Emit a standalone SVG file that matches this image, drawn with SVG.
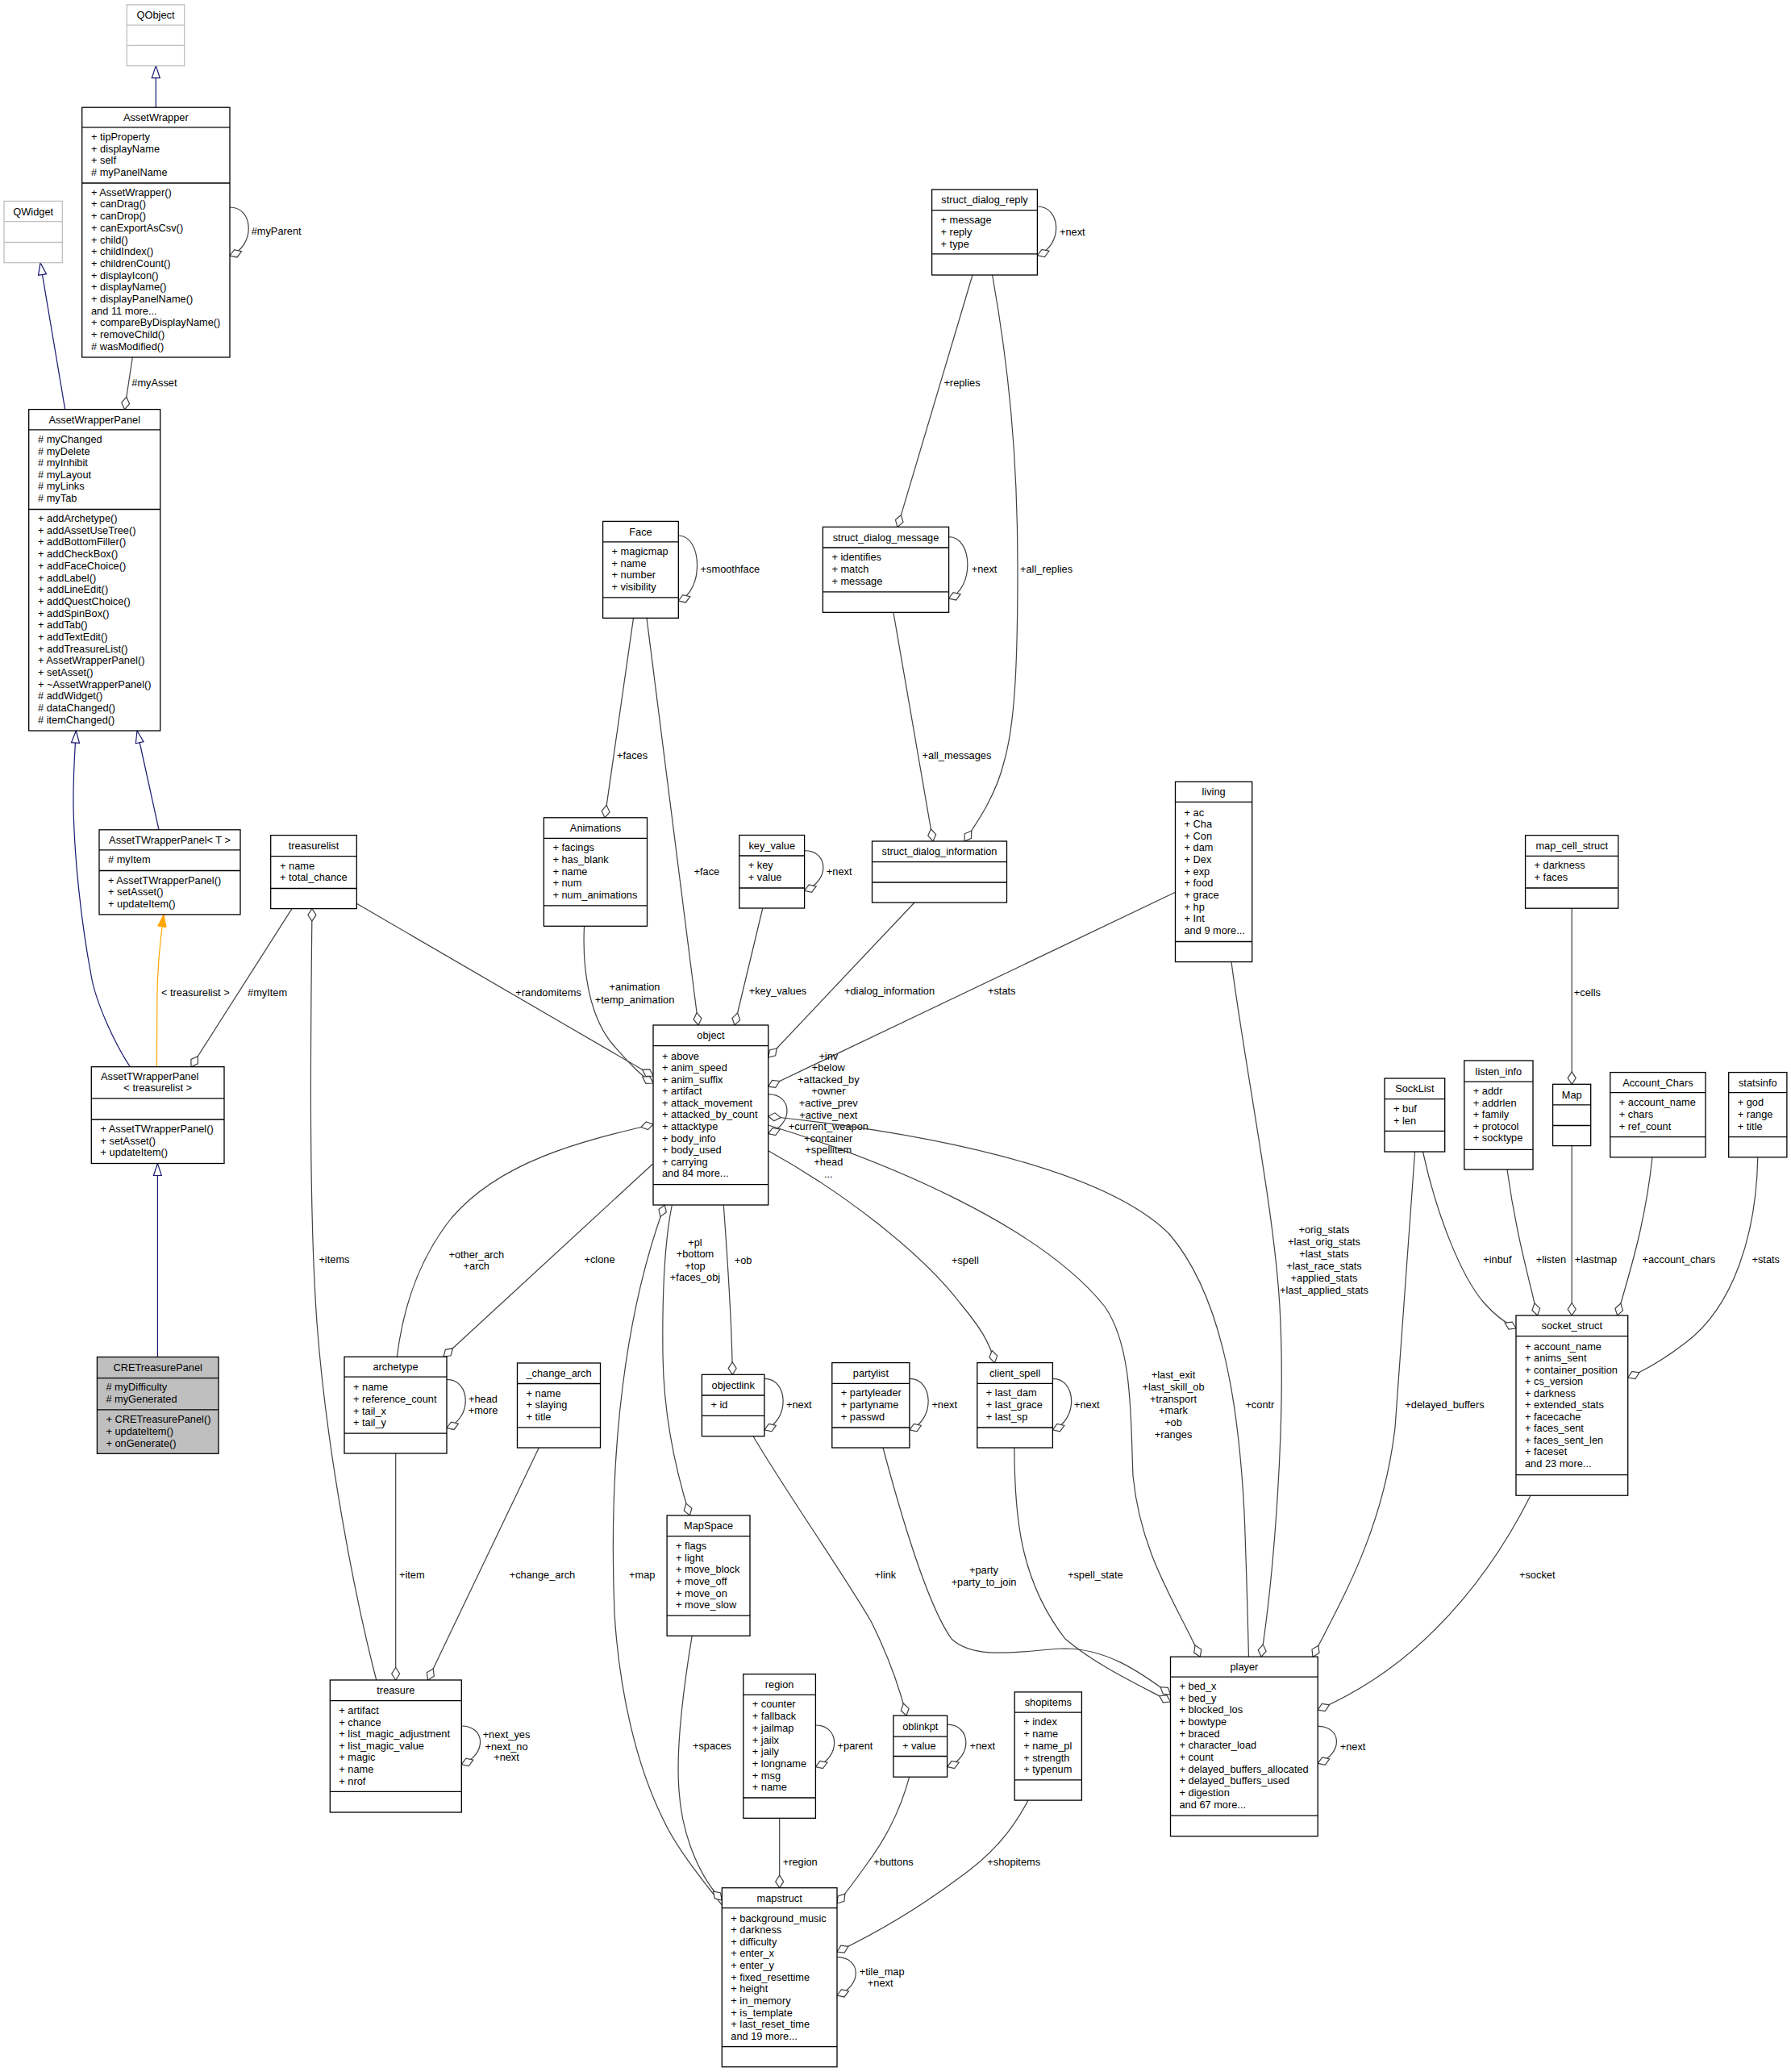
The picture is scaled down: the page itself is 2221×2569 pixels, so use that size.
<svg xmlns="http://www.w3.org/2000/svg" width="2221" height="2569" viewBox="0 0 2221 2569">
<style>
text{font-family:"Liberation Sans",Arial,Helvetica,sans-serif;font-size:12.8px;fill:#000}
.c{text-anchor:middle}
.b{fill:#fff;stroke:#000;stroke-width:1.3}
.g{fill:#fff;stroke:#bfbfbf;stroke-width:1.3}
.cre{fill:#bfbfbf;stroke:#000;stroke-width:1.3}
.s{stroke:#000;stroke-width:1.3}
.sg{stroke:#bfbfbf;stroke-width:1.3}
.e{fill:none;stroke:#404040;stroke-width:1.2;marker-end:url(#dia)}
.i{fill:none;stroke:#191970;stroke-width:1.2;marker-end:url(#tri)}
.o{fill:none;stroke:#ffa500;stroke-width:1.2;marker-end:url(#trio)}
</style>
<defs>
<marker id="dia" markerUnits="userSpaceOnUse" markerWidth="18" markerHeight="12" viewBox="-1 -1 18 12" refX="15.5" refY="5" orient="auto"><path d="M0,5 L7.75,0 L15.5,5 L7.75,10 Z" fill="#fff" stroke="#404040" stroke-width="1.2"/></marker>
<marker id="tri" markerUnits="userSpaceOnUse" markerWidth="18" markerHeight="12" viewBox="-1 -1 18 12" refX="15" refY="5" orient="auto"><path d="M0,0 L15,5 L0,10 Z" fill="#fff" stroke="#191970" stroke-width="1.2"/></marker>
<marker id="trio" markerUnits="userSpaceOnUse" markerWidth="18" markerHeight="12" viewBox="-1 -1 18 12" refX="15" refY="5" orient="auto"><path d="M0,0 L15,5 L0,10 Z" fill="#ffa500" stroke="#ffa500" stroke-width="1.2"/></marker>
</defs>
<rect width="2221" height="2569" fill="#fff"/>

<g id="edges">
<path class="i" d="M193.3,133.2 L193.3,81.6"/>
<path class="i" d="M80.7,507.6 L50,325.7"/>
<path class="i" d="M161.2,1322.7 C140,1290 118,1240 113,1209 C100,1140 92,1060 91,1000 C90.5,960 93,930 94.3,906"/>
<path class="i" d="M197,1028.8 L170,906"/>
<path class="o" d="M194.4,1322.7 L194.8,1240 C195,1200 198,1170 203,1133.9"/>
<text class="c" x="242.3" y="1235.1">&lt; treasurelist &gt;</text>
<path class="i" d="M195.4,1682.5 L195.4,1442.5"/>

<path class="e" d="M164.3,443 L154.5,507.6"/>
<text x="163.3" y="478.5">#myAsset</text>
<path class="e" d="M285,257 C315,257 317,305 285,317"/>
<text x="311.7" y="290.9">#myParent</text>
<path class="e" d="M841.3,664 C871.3,664 873.3,733 841.3,745"/>
<text x="868.6" y="710.2">+smoothface</text>
<path class="e" d="M1286.4,256 C1316.4,256 1318.4,304.7 1286.4,316.7"/>
<text x="1314" y="291.9">+next</text>
<path class="e" d="M1206,341 L1113,653.4"/>
<text x="1170.4" y="478.7">+replies</text>
<path class="e" d="M1176.6,665.6 C1206.6,665.6 1208.6,730 1176.6,742"/>
<text x="1204.7" y="710.2">+next</text>
<path class="e" d="M1230.6,341 C1250,450 1262,560 1262,705 C1262,830 1258,900 1245,945 C1235,985 1215,1015 1196,1043"/>
<text x="1265" y="710.2">+all_replies</text>
<path class="e" d="M1107.9,759.3 L1157,1043"/>
<text x="1143.6" y="941.1">+all_messages</text>
<path class="e" d="M785.5,766.3 L750,1013.8"/>
<text x="765" y="941.1">+faces</text>
<path class="e" d="M802,766.3 L866,1271"/>
<text x="860.5" y="1085.2">+face</text>
<path class="e" d="M997.6,1054.6 C1027.6,1054.6 1029.6,1092.3 997.6,1104.3"/>
<text x="1024.8" y="1085.2">+next</text>
<path class="e" d="M945.8,1126 L911,1271"/>
<text x="928.7" y="1233">+key_values</text>
<path class="e" d="M1134,1119 L952.7,1311"/>
<text x="1047" y="1233">+dialog_information</text>
<path class="e" d="M1457.5,1106.3 L952.7,1347.2"/>
<text x="1225" y="1233">+stats</text>
<path class="e" d="M442.3,1120.3 L810,1334"/>
<text class="c" x="680" y="1235.1">+randomitems</text>
<path class="e" d="M724.5,1148.3 C722,1200 730,1260 760,1295 C780,1318 795,1334 810,1343"/>
<text class="c" x="787" y="1228.3">+animation</text>
<text class="c" x="787" y="1243.5">+temp_animation</text>
<path class="e" d="M362,1126.6 L237,1322.7"/>
<text class="c" x="331.6" y="1235.1">#myItem</text>
<path class="e" d="M466.7,2083 C440,1980 405,1800 393,1640 C383,1500 385,1300 387,1126.6"/>
<text x="395.4" y="1566.2">+items</text>
<path class="e" d="M492.3,1682.3 C500,1620 520,1560 560,1510 C620,1440 720,1415 810,1394"/>
<text class="c" x="590.8" y="1559.5">+other_arch</text>
<text class="c" x="590.8" y="1573.5">+arch</text>
<path class="e" d="M809.3,1443.3 L550,1682.3"/>
<text class="c" x="743.5" y="1566.2">+clone</text>
<path class="e" d="M952.7,1356.7 C982.7,1356.7 984.7,1393.7 952.7,1405.7"/>
<text class="c" x="1027.3" y="1313.5">+inv</text>
<text class="c" x="1027.3" y="1328.1">+below</text>
<text class="c" x="1027.3" y="1342.7">+attacked_by</text>
<text class="c" x="1027.3" y="1357.3">+owner</text>
<text class="c" x="1027.3" y="1371.9">+active_prev</text>
<text class="c" x="1027.3" y="1386.5">+active_next</text>
<text class="c" x="1027.3" y="1401.1">+current_weapon</text>
<text class="c" x="1027.3" y="1415.7">+container</text>
<text class="c" x="1027.3" y="1430.3">+spellitem</text>
<text class="c" x="1027.3" y="1444.9">+head</text>
<text class="c" x="1027.3" y="1459.5">...</text>
<path class="e" d="M833.3,1494 C824,1540 821,1600 822,1680 C823,1760 840,1830 855.4,1878.9"/>
<text class="c" x="862" y="1544.5">+pl</text>
<text class="c" x="862" y="1559.2">+bottom</text>
<text class="c" x="862" y="1573.5">+top</text>
<text class="c" x="862" y="1587.8">+faces_obj</text>
<path class="e" d="M897.3,1494 C902,1560 908,1640 908.2,1704.3"/>
<text x="910.7" y="1566.5">+ob</text>
<path class="e" d="M952.7,1426.7 C1040,1475 1140,1550 1190,1615 C1215,1645 1228,1665 1233.5,1689.6"/>
<text x="1180" y="1566.5">+spell</text>
<path class="e" d="M1548.5,2054.2 C1547,2000 1546,1950 1543,1875 C1535,1720 1510,1600 1450,1530 C1380,1460 1200,1410 952.7,1384"/>
<text x="1544.4" y="1745.9">+contr</text>
<path class="e" d="M952.7,1395 C1100,1440 1290,1520 1370,1620 C1405,1670 1402,1760 1405,1830 C1415,1930 1460,1990 1488.3,2054.2"/>
<text class="c" x="1455" y="1709.2">+last_exit</text>
<text class="c" x="1455" y="1723.9">+last_skill_ob</text>
<text class="c" x="1455" y="1738.6">+transport</text>
<text class="c" x="1455" y="1753.3">+mark</text>
<text class="c" x="1455" y="1768">+ob</text>
<text class="c" x="1455" y="1782.7">+ranges</text>
<path class="e" d="M1527,1192.6 C1545,1330 1580,1500 1587,1620 C1595,1760 1580,1950 1564,2054.2"/>
<text class="c" x="1642" y="1529.2">+orig_stats</text>
<text class="c" x="1642" y="1544.1">+last_orig_stats</text>
<text class="c" x="1642" y="1558.9">+last_stats</text>
<text class="c" x="1642" y="1573.8">+last_race_stats</text>
<text class="c" x="1642" y="1588.6">+applied_stats</text>
<text class="c" x="1642" y="1603.5">+last_applied_stats</text>
<path class="e" d="M1754.6,1428 C1748,1520 1740,1620 1730,1770 C1715,1900 1660,1990 1628,2054.2"/>
<text x="1742.3" y="1745.9">+delayed_buffers</text>
<path class="e" d="M1949.2,1126.2 L1949.2,1344.3"/>
<text x="1951.8" y="1235.3">+cells</text>
<path class="e" d="M1764.5,1428 C1780,1500 1810,1580 1840,1615 C1855,1632 1866,1640 1880,1647"/>
<text x="1839.3" y="1566.4">+inbuf</text>
<path class="e" d="M1869,1450 C1880,1530 1895,1580 1906.5,1631"/>
<text x="1904.7" y="1566.4">+listen</text>
<path class="e" d="M1949.2,1420.6 L1949.2,1631"/>
<text x="1952.8" y="1566.4">+lastmap</text>
<path class="e" d="M2049,1434.8 C2040,1520 2020,1580 2005.6,1631"/>
<text x="2036.5" y="1566.4">+account_chars</text>
<path class="e" d="M2179.8,1434.8 C2178,1530 2150,1620 2090,1665 C2060,1688 2040,1699 2018.7,1708"/>
<text x="2172.5" y="1566.4">+stats</text>
<path class="e" d="M1898,1854.2 C1870,1910 1830,1970 1780,2020 C1730,2070 1680,2100 1634.2,2120"/>
<text x="1884" y="1957.2">+socket</text>
<path class="e" d="M1634.2,2140.4 C1664.2,2140.4 1666.2,2174.3 1634.2,2186.3"/>
<text x="1661.7" y="2169.5">+next</text>
<path class="e" d="M1095,1795 C1115,1870 1150,1990 1180,2032 C1210,2060 1270,2046 1320,2044 C1370,2044 1410,2070 1451.5,2101"/>
<text class="c" x="1220" y="1950.5">+party</text>
<text class="c" x="1220" y="1965.5">+party_to_join</text>
<path class="e" d="M1257.9,1795 C1258,1880 1265,1960 1321,2032 C1360,2065 1410,2088 1451.5,2110"/>
<text x="1324" y="1957.2">+spell_state</text>
<path class="e" d="M947.9,1709.3 C977.9,1709.3 979.9,1760.9 947.9,1772.9"/>
<text x="975" y="1746.3">+next</text>
<path class="e" d="M1127.9,1709.3 C1157.9,1709.3 1159.9,1760.9 1127.9,1772.9"/>
<text x="1155.4" y="1746.3">+next</text>
<path class="e" d="M1305.4,1709.3 C1335.4,1709.3 1337.4,1760.9 1305.4,1772.9"/>
<text x="1332" y="1746.3">+next</text>
<path class="e" d="M934,1780.7 C975,1850 1045,1950 1080,2010 C1100,2050 1115,2090 1124,2127.1"/>
<text x="1084.6" y="1957">+link</text>
<path class="e" d="M554,1710.4 C584,1710.4 586,1758.5 554,1770.5"/>
<text class="c" x="599" y="1739">+head</text>
<text class="c" x="599" y="1753.2">+more</text>
<path class="e" d="M490.7,1802 L490.7,2083"/>
<text x="495" y="1956.9">+item</text>
<path class="e" d="M668.3,1795 L530.5,2083"/>
<text x="631.7" y="1956.9">+change_arch</text>
<path class="e" d="M572.3,2140 C602.3,2140 604.3,2175.6 572.3,2187.6"/>
<text class="c" x="628" y="2154.5">+next_yes</text>
<text class="c" x="628" y="2169.5">+next_no</text>
<text class="c" x="628" y="2183">+next</text>
<path class="e" d="M895.3,2362 C870,2330 838,2290 822,2255 C790,2190 768,2100 762,2000 C758,1900 762,1800 772,1720 C782,1640 800,1560 824.3,1494"/>
<text x="780" y="1956.9">+map</text>
<path class="e" d="M858.2,2028.2 C848,2090 838,2170 842,2220 C846,2280 870,2330 895.3,2356"/>
<text x="859" y="2169.1">+spaces</text>
<path class="e" d="M1011.4,2139 C1041.4,2139 1043.4,2178.7 1011.4,2190.7"/>
<text x="1038.6" y="2169.1">+parent</text>
<path class="e" d="M1174.6,2138.2 C1204.6,2138.2 1206.6,2178.7 1174.6,2190.7"/>
<text x="1202.5" y="2169.1">+next</text>
<path class="e" d="M966.7,2254.3 L966.7,2340.7"/>
<text x="970.7" y="2312.5">+region</text>
<path class="e" d="M1127.7,2203.2 C1115,2250 1095,2285 1070,2318 C1058,2335 1048,2348 1038,2360"/>
<text x="1083.3" y="2312.5">+buttons</text>
<path class="e" d="M1275,2232.1 C1255,2270 1230,2300 1187,2330 C1140,2365 1090,2395 1038,2420"/>
<text x="1224.3" y="2312.5">+shopitems</text>
<path class="e" d="M1038,2426.7 C1068,2426.7 1070,2462 1038,2474"/>
<text x="1065.7" y="2448.5">+tile_map</text>
<text class="c" x="1091.7" y="2463.2">+next</text>
</g>

<g id="QObject"><rect class="g" x="157.3" y="5.9" width="71.4" height="75.7"/><line class="sg" x1="157.3" y1="31.1" x2="228.7" y2="31.1"/><line class="sg" x1="157.3" y1="56.3" x2="228.7" y2="56.3"/><text class="c" x="193" y="23">QObject</text></g>

<g id="AssetWrapper"><rect class="b" x="101.7" y="133.2" width="183.3" height="309.8"/><line class="s" x1="101.7" y1="157.8" x2="285" y2="157.8"/><line class="s" x1="101.7" y1="227" x2="285" y2="227"/>
<text class="c" x="193.3" y="150">AssetWrapper</text>
<text x="113" y="174.1">+ tipProperty</text><text x="113" y="188.6">+ displayName</text><text x="113" y="203.2">+ self</text><text x="113" y="217.7"># myPanelName</text>
<text x="113" y="242.7">+ AssetWrapper()</text><text x="113" y="257.4">+ canDrag()</text><text x="113" y="272.1">+ canDrop()</text><text x="113" y="286.8">+ canExportAsCsv()</text><text x="113" y="301.5">+ child()</text><text x="113" y="316.2">+ childIndex()</text><text x="113" y="330.9">+ childrenCount()</text><text x="113" y="345.6">+ displayIcon()</text><text x="113" y="360.3">+ displayName()</text><text x="113" y="375">+ displayPanelName()</text><text x="113" y="389.7">and 11 more...</text><text x="113" y="404.4">+ compareByDisplayName()</text><text x="113" y="419.1">+ removeChild()</text><text x="113" y="433.8"># wasModified()</text></g>

<g id="QWidget"><rect class="g" x="5" y="249.4" width="72.3" height="76.3"/><line class="sg" x1="5" y1="274.6" x2="77.3" y2="274.6"/><line class="sg" x1="5" y1="300.5" x2="77.3" y2="300.5"/><text class="c" x="41.2" y="266.5">QWidget</text></g>

<g id="AssetWrapperPanel"><rect class="b" x="35.7" y="507.6" width="163" height="398.4"/><line class="s" x1="35.7" y1="532.9" x2="198.7" y2="532.9"/><line class="s" x1="35.7" y1="631.5" x2="198.7" y2="631.5"/>
<text class="c" x="117.2" y="524.8">AssetWrapperPanel</text>
<text x="47" y="549.1"># myChanged</text><text x="47" y="563.7"># myDelete</text><text x="47" y="578.2"># myInhibit</text><text x="47" y="592.8"># myLayout</text><text x="47" y="607.3"># myLinks</text><text x="47" y="621.9"># myTab</text>
<text x="47" y="647.1">+ addArchetype()</text><text x="47" y="661.8">+ addAssetUseTree()</text><text x="47" y="676.4">+ addBottomFiller()</text><text x="47" y="691.1">+ addCheckBox()</text><text x="47" y="705.8">+ addFaceChoice()</text><text x="47" y="720.5">+ addLabel()</text><text x="47" y="735.1">+ addLineEdit()</text><text x="47" y="749.8">+ addQuestChoice()</text><text x="47" y="764.5">+ addSpinBox()</text><text x="47" y="779.1">+ addTab()</text><text x="47" y="793.8">+ addTextEdit()</text><text x="47" y="808.5">+ addTreasureList()</text><text x="47" y="823.1">+ AssetWrapperPanel()</text><text x="47" y="837.8">+ setAsset()</text><text x="47" y="852.5">+ ~AssetWrapperPanel()</text><text x="47" y="867.2"># addWidget()</text><text x="47" y="881.8"># dataChanged()</text><text x="47" y="896.5"># itemChanged()</text></g>

<g id="AssetTWrapperPanel_T"><rect class="b" x="123" y="1028.8" width="175" height="105.1"/><line class="s" x1="123" y1="1053.9" x2="298" y2="1053.9"/><line class="s" x1="123" y1="1079.5" x2="298" y2="1079.5"/>
<text class="c" x="210.5" y="1045.9">AssetTWrapperPanel&lt; T &gt;</text>
<text x="134" y="1070.4"># myItem</text>
<text x="134" y="1095.5">+ AssetTWrapperPanel()</text><text x="134" y="1110.3">+ setAsset()</text><text x="134" y="1125.1">+ updateItem()</text></g>

<g id="treasurelist"><rect class="b" x="335.7" y="1035.6" width="106.6" height="91"/><line class="s" x1="335.7" y1="1061.7" x2="442.3" y2="1061.7"/><line class="s" x1="335.7" y1="1101.5" x2="442.3" y2="1101.5"/>
<text class="c" x="389" y="1053.2">treasurelist</text>
<text x="347" y="1077.7">+ name</text><text x="347" y="1092.4">+ total_chance</text></g>

<g id="AssetTWrapperPanel_treasurelist"><rect class="b" x="113.3" y="1322.7" width="164.7" height="119.8"/><line class="s" x1="113.3" y1="1361.9" x2="278" y2="1361.9"/><line class="s" x1="113.3" y1="1388" x2="278" y2="1388"/>
<text x="125" y="1339.2">AssetTWrapperPanel</text><text class="c" x="195.7" y="1353.3">&lt; treasurelist &gt;</text>
<text x="124.5" y="1404.1">+ AssetTWrapperPanel()</text><text x="124.5" y="1418.7">+ setAsset()</text><text x="124.5" y="1433.4">+ updateItem()</text></g>

<g id="CRETreasurePanel"><rect class="cre" x="120.4" y="1682.5" width="150.6" height="119.8"/><line class="s" x1="120.4" y1="1708.7" x2="271" y2="1708.7"/><line class="s" x1="120.4" y1="1747.9" x2="271" y2="1747.9"/>
<text class="c" x="195.7" y="1700.1">CRETreasurePanel</text>
<text x="131.4" y="1724.2"># myDifficulty</text><text x="131.4" y="1739.3"># myGenerated</text>
<text x="131.4" y="1764.2">+ CRETreasurePanel()</text><text x="131.4" y="1778.9">+ updateItem()</text><text x="131.4" y="1793.6">+ onGenerate()</text></g>

<g id="Face"><rect class="b" x="747.6" y="646.4" width="93.7" height="119.9"/><line class="s" x1="747.6" y1="671.9" x2="841.3" y2="671.9"/><line class="s" x1="747.6" y1="740.8" x2="841.3" y2="740.8"/>
<text class="c" x="794.5" y="663.7">Face</text>
<text x="758.6" y="687.9">+ magicmap</text><text x="758.6" y="702.6">+ name</text><text x="758.6" y="717.2">+ number</text><text x="758.6" y="731.9">+ visibility</text></g>

<g id="Animations"><rect class="b" x="674.4" y="1013.8" width="128.1" height="134.5"/><line class="s" x1="674.4" y1="1039.3" x2="802.5" y2="1039.3"/><line class="s" x1="674.4" y1="1122.8" x2="802.5" y2="1122.8"/>
<text class="c" x="738.5" y="1031">Animations</text>
<text x="685.4" y="1055.3">+ facings</text><text x="685.4" y="1070">+ has_blank</text><text x="685.4" y="1084.6">+ name</text><text x="685.4" y="1099.3">+ num</text><text x="685.4" y="1114">+ num_animations</text></g>

<g id="struct_dialog_reply"><rect class="b" x="1155.6" y="235" width="130.8" height="106"/><line class="s" x1="1155.6" y1="260.6" x2="1286.4" y2="260.6"/><line class="s" x1="1155.6" y1="314.8" x2="1286.4" y2="314.8"/>
<text class="c" x="1221" y="252.3">struct_dialog_reply</text>
<text x="1166.6" y="277.2">+ message</text><text x="1166.6" y="291.9">+ reply</text><text x="1166.6" y="306.5">+ type</text></g>

<g id="struct_dialog_message"><rect class="b" x="1020.4" y="653.4" width="156.2" height="105.9"/><line class="s" x1="1020.4" y1="679" x2="1176.6" y2="679"/><line class="s" x1="1020.4" y1="733.8" x2="1176.6" y2="733.8"/>
<text class="c" x="1098.5" y="670.7">struct_dialog_message</text>
<text x="1031.4" y="695.1">+ identifies</text><text x="1031.4" y="709.8">+ match</text><text x="1031.4" y="724.5">+ message</text></g>

<g id="struct_dialog_information"><rect class="b" x="1081.5" y="1043" width="167" height="76"/><line class="s" x1="1081.5" y1="1068.6" x2="1248.5" y2="1068.6"/><line class="s" x1="1081.5" y1="1094" x2="1248.5" y2="1094"/>
<text class="c" x="1165" y="1060.3">struct_dialog_information</text></g>

<g id="key_value"><rect class="b" x="916.8" y="1035.5" width="80.8" height="90.5"/><line class="s" x1="916.8" y1="1061" x2="997.6" y2="1061"/><line class="s" x1="916.8" y1="1101" x2="997.6" y2="1101"/>
<text class="c" x="957.2" y="1052.8">key_value</text>
<text x="927.8" y="1077.1">+ key</text><text x="927.8" y="1091.8">+ value</text></g>

<g id="living"><rect class="b" x="1457.5" y="969.3" width="95.2" height="223.3"/><line class="s" x1="1457.5" y1="994.4" x2="1552.7" y2="994.4"/><line class="s" x1="1457.5" y1="1167.5" x2="1552.7" y2="1167.5"/>
<text class="c" x="1505.1" y="986.4">living</text>
<text x="1468.5" y="1011.5">+ ac</text><text x="1468.5" y="1026.1">+ Cha</text><text x="1468.5" y="1040.8">+ Con</text><text x="1468.5" y="1055.4">+ dam</text><text x="1468.5" y="1070.1">+ Dex</text><text x="1468.5" y="1084.7">+ exp</text><text x="1468.5" y="1099.3">+ food</text><text x="1468.5" y="1114">+ grace</text><text x="1468.5" y="1128.6">+ hp</text><text x="1468.5" y="1143.3">+ Int</text><text x="1468.5" y="1157.9">and 9 more...</text></g>

<g id="map_cell_struct"><rect class="b" x="1891.6" y="1035.7" width="115.1" height="90.5"/><line class="s" x1="1891.6" y1="1061.3" x2="2006.7" y2="1061.3"/><line class="s" x1="1891.6" y1="1101" x2="2006.7" y2="1101"/>
<text class="c" x="1949.2" y="1053">map_cell_struct</text>
<text x="1902.6" y="1077.3">+ darkness</text><text x="1902.6" y="1092">+ faces</text></g>

<g id="object"><rect class="b" x="810" y="1271" width="142.7" height="223"/><line class="s" x1="810" y1="1296.7" x2="952.7" y2="1296.7"/><line class="s" x1="810" y1="1468.7" x2="952.7" y2="1468.7"/>
<text class="c" x="881.4" y="1288.3">object</text>
<text x="821" y="1313.5">+ above</text><text x="821" y="1328.1">+ anim_speed</text><text x="821" y="1342.6">+ anim_suffix</text><text x="821" y="1357.2">+ artifact</text><text x="821" y="1371.8">+ attack_movement</text><text x="821" y="1386.4">+ attacked_by_count</text><text x="821" y="1400.9">+ attacktype</text><text x="821" y="1415.5">+ body_info</text><text x="821" y="1430.1">+ body_used</text><text x="821" y="1444.6">+ carrying</text><text x="821" y="1459.2">and 84 more...</text></g>

<g id="SockList"><rect class="b" x="1717" y="1337" width="74.7" height="91"/><line class="s" x1="1717" y1="1362.6" x2="1791.7" y2="1362.6"/><line class="s" x1="1717" y1="1402.3" x2="1791.7" y2="1402.3"/>
<text class="c" x="1754.4" y="1354.3">SockList</text>
<text x="1728" y="1379.1">+ buf</text><text x="1728" y="1393.7">+ len</text></g>

<g id="listen_info"><rect class="b" x="1815.8" y="1315" width="85.2" height="135"/><line class="s" x1="1815.8" y1="1341.2" x2="1901" y2="1341.2"/><line class="s" x1="1815.8" y1="1425.4" x2="1901" y2="1425.4"/>
<text class="c" x="1858.4" y="1332.6">listen_info</text>
<text x="1826.8" y="1357.2">+ addr</text><text x="1826.8" y="1371.7">+ addrlen</text><text x="1826.8" y="1386.2">+ family</text><text x="1826.8" y="1400.7">+ protocol</text><text x="1826.8" y="1415.2">+ socktype</text></g>

<g id="Map"><rect class="b" x="1925.6" y="1344.3" width="47.1" height="76.3"/><line class="s" x1="1925.6" y1="1369.9" x2="1972.7" y2="1369.9"/><line class="s" x1="1925.6" y1="1395.5" x2="1972.7" y2="1395.5"/>
<text class="c" x="1949.2" y="1361.6">Map</text></g>

<g id="Account_Chars"><rect class="b" x="1996.8" y="1329.6" width="118.2" height="105.2"/><line class="s" x1="1996.8" y1="1354.7" x2="2115" y2="1354.7"/><line class="s" x1="1996.8" y1="1409.7" x2="2115" y2="1409.7"/>
<text class="c" x="2055.9" y="1346.7">Account_Chars</text>
<text x="2007.8" y="1371.3">+ account_name</text><text x="2007.8" y="1386.2">+ chars</text><text x="2007.8" y="1401.1">+ ref_count</text></g>

<g id="statsinfo"><rect class="b" x="2143.7" y="1329.6" width="72.2" height="105.2"/><line class="s" x1="2143.7" y1="1354.7" x2="2215.9" y2="1354.7"/><line class="s" x1="2143.7" y1="1409.7" x2="2215.9" y2="1409.7"/>
<text class="c" x="2179.8" y="1346.7">statsinfo</text>
<text x="2154.7" y="1371.3">+ god</text><text x="2154.7" y="1386.2">+ range</text><text x="2154.7" y="1401.1">+ title</text></g>

<g id="socket_struct"><rect class="b" x="1880" y="1631" width="138.7" height="223.2"/><line class="s" x1="1880" y1="1656.7" x2="2018.7" y2="1656.7"/><line class="s" x1="1880" y1="1828.7" x2="2018.7" y2="1828.7"/>
<text class="c" x="1949.3" y="1648.4">socket_struct</text>
<text x="1891" y="1673.5">+ account_name</text><text x="1891" y="1688">+ anims_sent</text><text x="1891" y="1702.6">+ container_position</text><text x="1891" y="1717.1">+ cs_version</text><text x="1891" y="1731.7">+ darkness</text><text x="1891" y="1746.2">+ extended_stats</text><text x="1891" y="1760.7">+ facecache</text><text x="1891" y="1775.3">+ faces_sent</text><text x="1891" y="1789.8">+ faces_sent_len</text><text x="1891" y="1804.4">+ faceset</text><text x="1891" y="1818.9">and 23 more...</text></g>

<g id="archetype"><rect class="b" x="427" y="1682.3" width="127" height="119.7"/><line class="s" x1="427" y1="1707.2" x2="554" y2="1707.2"/><line class="s" x1="427" y1="1777.2" x2="554" y2="1777.2"/>
<text class="c" x="490.5" y="1699.3">archetype</text>
<text x="438" y="1724.4">+ name</text><text x="438" y="1739">+ reference_count</text><text x="438" y="1753.6">+ tail_x</text><text x="438" y="1768.2">+ tail_y</text></g>

<g id="_change_arch"><rect class="b" x="641.5" y="1690" width="103" height="105"/><line class="s" x1="641.5" y1="1715.5" x2="744.5" y2="1715.5"/><line class="s" x1="641.5" y1="1769.9" x2="744.5" y2="1769.9"/>
<text class="c" x="693" y="1707.3">_change_arch</text>
<text x="652.5" y="1731.7">+ name</text><text x="652.5" y="1746.4">+ slaying</text><text x="652.5" y="1761.1">+ title</text></g>

<g id="objectlink"><rect class="b" x="870.4" y="1704.3" width="77.5" height="76.4"/><line class="s" x1="870.4" y1="1730" x2="947.9" y2="1730"/><line class="s" x1="870.4" y1="1755.4" x2="947.9" y2="1755.4"/>
<text class="c" x="909.2" y="1721.7">objectlink</text>
<text x="881.4" y="1746.3">+ id</text></g>

<g id="partylist"><rect class="b" x="1031.8" y="1689.6" width="96.1" height="105.4"/><line class="s" x1="1031.8" y1="1715.4" x2="1127.9" y2="1715.4"/><line class="s" x1="1031.8" y1="1770" x2="1127.9" y2="1770"/>
<text class="c" x="1079.9" y="1707">partylist</text>
<text x="1042.8" y="1731.3">+ partyleader</text><text x="1042.8" y="1746">+ partyname</text><text x="1042.8" y="1760.6">+ passwd</text></g>

<g id="client_spell"><rect class="b" x="1211.8" y="1689.6" width="93.6" height="105.4"/><line class="s" x1="1211.8" y1="1715.4" x2="1305.4" y2="1715.4"/><line class="s" x1="1211.8" y1="1770" x2="1305.4" y2="1770"/>
<text class="c" x="1258.6" y="1707">client_spell</text>
<text x="1222.8" y="1731.3">+ last_dam</text><text x="1222.8" y="1746">+ last_grace</text><text x="1222.8" y="1760.6">+ last_sp</text></g>

<g id="MapSpace"><rect class="b" x="827.1" y="1878.9" width="102.9" height="149.3"/><line class="s" x1="827.1" y1="1904.6" x2="930" y2="1904.6"/><line class="s" x1="827.1" y1="2003.2" x2="930" y2="2003.2"/>
<text class="c" x="878.6" y="1896.3">MapSpace</text>
<text x="838.1" y="1921.3">+ flags</text><text x="838.1" y="1935.9">+ light</text><text x="838.1" y="1950.4">+ move_block</text><text x="838.1" y="1965">+ move_off</text><text x="838.1" y="1979.6">+ move_on</text><text x="838.1" y="1994.2">+ move_slow</text></g>

<g id="treasure"><rect class="b" x="409.3" y="2083" width="163" height="164"/><line class="s" x1="409.3" y1="2108.6" x2="572.3" y2="2108.6"/><line class="s" x1="409.3" y1="2221.3" x2="572.3" y2="2221.3"/>
<text class="c" x="490.8" y="2100.3">treasure</text>
<text x="420.3" y="2124.9">+ artifact</text><text x="420.3" y="2139.5">+ chance</text><text x="420.3" y="2154.2">+ list_magic_adjustment</text><text x="420.3" y="2168.8">+ list_magic_value</text><text x="420.3" y="2183.4">+ magic</text><text x="420.3" y="2198.1">+ name</text><text x="420.3" y="2212.7">+ nrof</text></g>

<g id="player"><rect class="b" x="1451.5" y="2054.2" width="182.7" height="222.4"/><line class="s" x1="1451.5" y1="2079.2" x2="1634.2" y2="2079.2"/><line class="s" x1="1451.5" y1="2251.1" x2="1634.2" y2="2251.1"/>
<text class="c" x="1542.9" y="2071.2">player</text>
<text x="1462.5" y="2094.9">+ bed_x</text><text x="1462.5" y="2109.6">+ bed_y</text><text x="1462.5" y="2124.3">+ blocked_los</text><text x="1462.5" y="2139">+ bowtype</text><text x="1462.5" y="2153.7">+ braced</text><text x="1462.5" y="2168.4">+ character_load</text><text x="1462.5" y="2183">+ count</text><text x="1462.5" y="2197.7">+ delayed_buffers_allocated</text><text x="1462.5" y="2212.4">+ delayed_buffers_used</text><text x="1462.5" y="2227.1">+ digestion</text><text x="1462.5" y="2241.8">and 67 more...</text></g>

<g id="region"><rect class="b" x="921.8" y="2075.7" width="89.6" height="178.6"/><line class="s" x1="921.8" y1="2101.4" x2="1011.4" y2="2101.4"/><line class="s" x1="921.8" y1="2229" x2="1011.4" y2="2229"/>
<text class="c" x="966.6" y="2093">region</text>
<text x="932.8" y="2117.4">+ counter</text><text x="932.8" y="2132.1">+ fallback</text><text x="932.8" y="2146.8">+ jailmap</text><text x="932.8" y="2161.5">+ jailx</text><text x="932.8" y="2176.2">+ jaily</text><text x="932.8" y="2190.9">+ longname</text><text x="932.8" y="2205.5">+ msg</text><text x="932.8" y="2220.2">+ name</text></g>

<g id="oblinkpt"><rect class="b" x="1107.9" y="2127.1" width="66.7" height="76.1"/><line class="s" x1="1107.9" y1="2153.2" x2="1174.6" y2="2153.2"/><line class="s" x1="1107.9" y1="2177.5" x2="1174.6" y2="2177.5"/>
<text class="c" x="1141.3" y="2144.6">oblinkpt</text>
<text x="1118.9" y="2169.1">+ value</text></g>

<g id="shopitems"><rect class="b" x="1258.2" y="2097.9" width="83.2" height="134.2"/><line class="s" x1="1258.2" y1="2123.2" x2="1341.4" y2="2123.2"/><line class="s" x1="1258.2" y1="2206.8" x2="1341.4" y2="2206.8"/>
<text class="c" x="1299.8" y="2115">shopitems</text>
<text x="1269.2" y="2139.1">+ index</text><text x="1269.2" y="2153.9">+ name</text><text x="1269.2" y="2168.7">+ name_pl</text><text x="1269.2" y="2183.5">+ strength</text><text x="1269.2" y="2198.3">+ typenum</text></g>

<g id="mapstruct"><rect class="b" x="895.3" y="2340.7" width="142.7" height="222"/><line class="s" x1="895.3" y1="2365.7" x2="1038" y2="2365.7"/><line class="s" x1="895.3" y1="2537.7" x2="1038" y2="2537.7"/>
<text class="c" x="966.7" y="2357.7">mapstruct</text>
<text x="906.3" y="2382.5">+ background_music</text><text x="906.3" y="2397.1">+ darkness</text><text x="906.3" y="2411.8">+ difficulty</text><text x="906.3" y="2426.4">+ enter_x</text><text x="906.3" y="2441">+ enter_y</text><text x="906.3" y="2455.7">+ fixed_resettime</text><text x="906.3" y="2470.3">+ height</text><text x="906.3" y="2484.9">+ in_memory</text><text x="906.3" y="2499.5">+ is_template</text><text x="906.3" y="2514.2">+ last_reset_time</text><text x="906.3" y="2528.8">and 19 more...</text></g>
</svg>
